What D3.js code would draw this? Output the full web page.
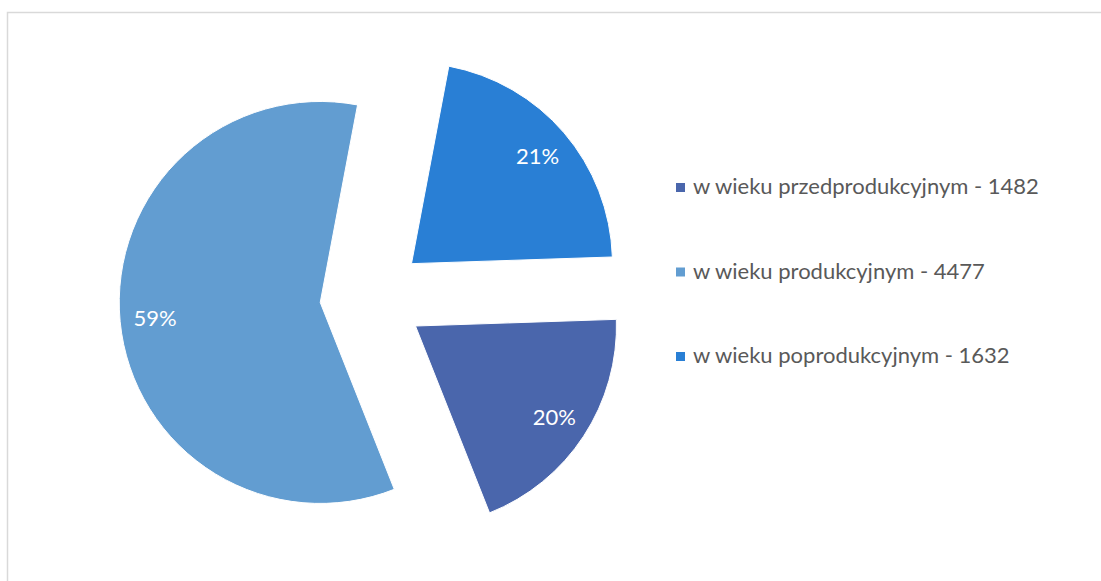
<!DOCTYPE html>
<html>
<head>
<meta charset="utf-8">
<script src="https://cdn.jsdelivr.net/npm/d3@7"></script>
<style>
  html, body { margin: 0; padding: 0; background: #fff; }
  svg { display: block; }
</style>
</head>
<body>
<svg id="chart" width="1101" height="581"></svg>
<script>
// ---- data ----
const categories = ["w wieku przedprodukcyjnym", "w wieku produkcyjnym", "w wieku poprodukcyjnym"];
const values = [1482, 4477, 1632];
const colors = ["#4A66AC", "#629DD1", "#297FD5"];

// ---- layout ----
const W = 1101, H = 581;
const cx = 372, cy = 297.5;
const R = 201;
const explode = 52;
const labelR = 166;
const startDeg = 88.1;
const FONT = "Lato, 'Open Sans', sans-serif";

const svg = d3.select("#chart");

// chart area border (continues past the picture edge on right/bottom)
svg.append("rect")
  .attr("x", 7.5).attr("y", 12.5)
  .attr("width", 1200).attr("height", 1200)
  .attr("fill", "#fff")
  .attr("stroke", "#d9d9d9")
  .attr("stroke-width", 1.5);

const total = d3.sum(values);
const data = categories.map((c, i) => ({ name: c, value: values[i], color: colors[i] }));

const start = startDeg * Math.PI / 180;
const pie = d3.pie().sort(null).value(d => d.value)
  .startAngle(start).endAngle(start + 2 * Math.PI);
const arcs = pie(data);

const arc = d3.arc().innerRadius(0).outerRadius(R);
const labelArc = d3.arc().innerRadius(labelR).outerRadius(labelR);

const g = svg.append("g").attr("transform", `translate(${cx},${cy})`);

const slices = g.selectAll("g.slice").data(arcs).join("g")
  .attr("class", "slice")
  .attr("transform", d => {
    const a = (d.startAngle + d.endAngle) / 2;
    return `translate(${Math.sin(a) * explode},${-Math.cos(a) * explode})`;
  });

slices.append("path")
  .attr("d", arc)
  .attr("fill", d => d.data.color)
  .attr("stroke", "#fff")
  .attr("stroke-width", 1);

const pct = d3.format(".0%");
slices.append("text")
  .attr("transform", d => `translate(${labelArc.centroid(d)})`)
  .attr("text-anchor", "middle")
  .attr("dy", "0.36em")
  .attr("fill", "#fff")
  .style("font-family", FONT)
  .style("font-size", "22px")
  .text(d => pct(d.data.value / total));

// ---- legend ----
const legendX = 676, legendY0 = 187.5, legendStep = 84.5;
const leg = svg.append("g").selectAll("g").data(data).join("g")
  .attr("transform", (d, i) => `translate(${legendX},${legendY0 + i * legendStep})`);

leg.append("rect")
  .attr("x", 0).attr("y", -4.5)
  .attr("width", 9).attr("height", 9)
  .attr("fill", d => d.color);

leg.append("text")
  .attr("x", 17).attr("y", 6.5)
  .attr("fill", "#595959")
  .style("font-family", FONT)
  .style("font-size", "22px")
  .text(d => `${d.name} - ${d.value}`);
</script>
</body>
</html>
